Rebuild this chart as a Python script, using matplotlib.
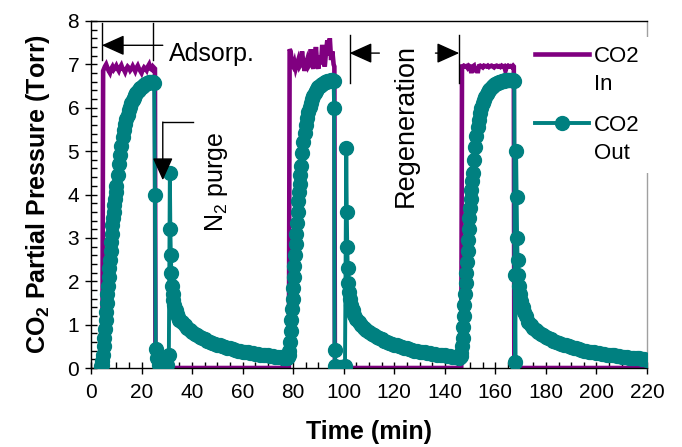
import matplotlib
matplotlib.use("Agg")
import matplotlib.pyplot as plt
from matplotlib.legend_handler import HandlerLine2D
from matplotlib.ticker import MultipleLocator

plt.rcParams['font.family'] = ['Liberation Sans', 'DejaVu Sans']
plt.rcParams['mathtext.fontset'] = 'custom'
plt.rcParams['mathtext.rm'] = 'Liberation Sans'
plt.rcParams['mathtext.bf'] = 'Liberation Sans:bold'

# ---------------- data ----------------
# CO2 In (feed), Torr vs min
t_in = [4.5, 4.8,
        5.0, 5.5, 6.0, 6.5, 7.0, 7.5, 8.0, 8.5, 9.0, 9.5, 10.0, 10.5, 11.0, 11.5,
        12.0, 12.5, 13.0, 13.5, 14.0, 14.5, 15.0, 15.5, 16.0, 16.5, 17.0, 17.5,
        18.0, 18.5, 19.0, 19.5, 20.0, 20.5, 21.0, 21.5, 22.0, 22.5, 23.0, 23.5,
        24.0, 24.5, 25.0, 25.3, 25.5,
        78.3, 78.6,
        79.0, 79.5, 80.0, 80.5, 81.0, 81.5, 82.0, 82.5, 83.0, 83.5, 84.0, 84.5,
        85.0, 85.5, 86.0, 86.5, 87.0, 87.5, 88.0, 88.5, 89.0, 89.5, 90.0, 90.5,
        91.0, 91.5, 92.0, 92.5, 93.0, 93.5, 94.0, 94.5, 95.0, 95.5, 96.0, 96.3, 96.5,
        146.5, 146.8,
        147.0, 147.5, 148.0, 148.5, 149.0, 149.5, 150.0, 150.5, 151.0, 151.5,
        152.0, 152.5, 153.0, 153.5, 154.0, 154.5, 155.0, 155.5, 156.0, 156.5,
        157.0, 157.5, 158.0, 158.5, 159.0, 159.5, 160.0, 160.5, 161.0, 161.5,
        162.0, 162.5, 163.0, 163.5, 164.0, 164.5, 165.0, 165.5, 166.0, 166.5,
        167.0, 167.3, 167.5,
        220.0]
p_in = [0.0, 6.85,
        6.88, 6.95, 7.00, 6.92, 6.85, 6.80, 6.90, 6.95, 6.88, 6.92, 6.97, 6.90, 6.85, 6.93,
        6.98, 6.90, 6.88, 6.82, 6.90, 6.95, 6.92, 6.86, 6.90, 6.96, 6.90, 6.84,
        6.92, 6.97, 6.90, 6.85, 6.80, 6.88, 6.93, 6.90, 6.86, 6.95, 7.00, 6.90,
        6.88, 6.95, 6.92, 6.90, 0.0,
        0.0, 7.35,
        7.30, 7.00, 6.95, 7.05, 6.90, 7.00, 7.10, 6.95, 7.00, 7.30, 7.05, 6.85,
        7.00, 7.10, 6.95, 7.00, 7.35, 7.00, 6.90, 7.10, 7.40, 7.00, 6.90, 7.20,
        7.00, 7.45, 7.10, 6.95, 7.30, 7.55, 7.20, 7.60, 7.10, 7.30, 7.00, 6.95, 0.0,
        0.0, 6.95,
        6.95, 6.97, 6.95, 6.96, 6.92, 6.97, 6.95, 6.80, 6.95, 6.97,
        6.82, 6.95, 6.80, 6.96, 6.97, 6.95, 6.93, 6.97, 6.96, 6.95,
        6.97, 6.94, 6.96, 6.97, 6.95, 6.93, 6.96, 6.97, 6.95, 6.96,
        6.94, 6.97, 6.95, 6.96, 6.85, 6.95, 6.97, 6.95, 6.96, 6.94,
        6.97, 6.95, 0.0,
        0.0]

# CO2 Out (effluent), Torr vs min, one list per cycle
t_out_1 = [4.0, 4.25, 4.5, 4.75, 5.0, 5.25, 5.5, 5.75, 6.0, 6.25, 6.5, 6.75, 7.0,
           7.25, 7.5, 7.75, 8.0, 8.25, 8.5, 8.75, 9.0, 9.25, 9.5, 9.75, 10.0,
           10.5, 11.0, 11.5, 12.0, 12.5, 13.0, 13.5, 14.0, 14.5, 15.0, 15.5, 16.0,
           16.5, 17.0, 17.5, 18.0, 18.5, 19.0, 19.5, 20.0, 20.5, 21.0, 21.5, 22.0,
           22.5, 23.0, 23.5, 24.0, 24.5, 25.0,
           25.3, 25.6, 26.2, 27.0, 28.0, 29.0, 30.0, 30.8,
           31.2, 31.4, 31.6, 31.8, 32.0, 32.3, 32.6, 33.0, 33.5, 34.0, 34.5, 35.0,
           36.0, 37.0, 38.0, 39.0, 40.0, 41.0, 42.0, 43.0, 44.0, 45.0,
           46.0, 47.0, 48.0, 49.0, 50.0, 51.0, 52.0, 53.0, 54.0, 55.0,
           56.0, 57.0, 58.0, 59.0, 60.0, 61.0, 62.0, 63.0, 64.0, 65.0,
           66.0, 67.0, 68.0, 69.0, 70.0, 71.0, 72.0, 73.0, 74.0, 75.0,
           76.0, 77.0, 77.5]
p_out_1 = [0.05, 0.08, 0.15, 0.30, 0.50, 0.70, 0.90, 1.10, 1.30, 1.50, 1.70, 1.90, 2.10,
           2.30, 2.50, 2.70, 2.90, 3.10, 3.30, 3.45, 3.60, 3.75, 3.90, 4.05, 4.20,
           4.45, 4.70, 4.92, 5.12, 5.32, 5.48, 5.62, 5.74, 5.84, 5.94, 6.02, 6.10,
           6.17, 6.23, 6.29, 6.34, 6.38, 6.42, 6.45, 6.48, 6.51, 6.53, 6.55, 6.57,
           6.58, 6.59, 6.60, 6.60, 6.60, 6.58,
           4.00, 0.44, 0.22, 0.07, 0.03, 0.03, 0.06, 0.30,
           4.50, 3.20, 2.60, 2.20, 1.90, 1.70, 1.57, 1.45, 1.33, 1.24, 1.17, 1.11,
           1.05, 0.98, 0.92, 0.87, 0.83, 0.79, 0.75, 0.72, 0.69, 0.66,
           0.63, 0.61, 0.58, 0.56, 0.54, 0.52, 0.50, 0.48, 0.46, 0.45,
           0.43, 0.42, 0.40, 0.39, 0.38, 0.37, 0.36, 0.35, 0.34, 0.33,
           0.32, 0.31, 0.30, 0.29, 0.29, 0.28, 0.27, 0.26, 0.26, 0.25,
           0.24, 0.23, 0.23]

t_out_2 = [78.0, 78.25, 78.5, 78.75, 79.0, 79.25, 79.5, 79.75, 80.0, 80.25, 80.5,
           80.75, 81.0, 81.25, 81.5, 81.75, 82.0, 82.25, 82.5, 82.75, 83.0,
           83.5, 84.0, 84.5, 85.0, 85.5, 86.0, 86.5, 87.0, 87.5, 88.0, 88.5, 89.0,
           89.5, 90.0, 90.5, 91.0, 91.5, 92.0, 92.5, 93.0, 93.5, 94.0, 94.5, 95.0,
           95.5, 96.0,
           96.2, 96.4, 96.7, 97.5, 98.5, 99.5, 100.5,
           101.0, 101.2, 101.4, 101.6, 101.8, 102.1, 102.5, 103.0, 103.5, 104.0, 105.0,
           106.0, 107.0, 108.0, 109.0, 110.0, 111.0, 112.0, 113.0, 114.0, 115.0,
           116.0, 117.0, 118.0, 119.0, 120.0, 121.0, 122.0, 123.0, 124.0, 125.0,
           126.0, 127.0, 128.0, 129.0, 130.0, 131.0, 132.0, 133.0, 134.0, 135.0,
           136.0, 137.0, 138.0, 139.0, 140.0, 141.0, 142.0, 143.0, 144.0, 145.0,
           145.5, 146.0]
p_out_2 = [0.25, 0.30, 0.40, 0.60, 0.85, 1.10, 1.35, 1.60, 1.85, 2.10, 2.35,
           2.60, 2.85, 3.10, 3.35, 3.60, 3.85, 4.05, 4.25, 4.45, 4.65,
           4.95, 5.20, 5.42, 5.60, 5.76, 5.90, 6.02, 6.12, 6.20, 6.27, 6.33, 6.38,
           6.43, 6.47, 6.50, 6.53, 6.55, 6.57, 6.59, 6.60, 6.61, 6.62, 6.62, 6.63,
           6.63, 6.62,
           6.00, 0.41, 0.05, 0.02, 0.02, 0.02, 0.04,
           5.07, 3.60, 2.80, 2.30, 1.96, 1.75, 1.60, 1.45, 1.33, 1.23, 1.12,
           1.05, 0.98, 0.92, 0.87, 0.83, 0.79, 0.75, 0.72, 0.69, 0.66,
           0.63, 0.61, 0.58, 0.56, 0.54, 0.52, 0.50, 0.48, 0.46, 0.45,
           0.43, 0.42, 0.40, 0.39, 0.38, 0.37, 0.36, 0.35, 0.34, 0.33,
           0.32, 0.31, 0.30, 0.29, 0.29, 0.28, 0.27, 0.26, 0.26, 0.25,
           0.24, 0.25]

t_out_3 = [146.25, 146.5, 146.75, 147.0, 147.25, 147.5, 147.75, 148.0, 148.25,
           148.5, 148.75, 149.0, 149.25, 149.5, 149.75, 150.0, 150.25, 150.5,
           150.75, 151.0,
           151.5, 152.0, 152.5, 153.0, 153.5, 154.0, 154.5, 155.0, 155.5, 156.0,
           156.5, 157.0, 157.5, 158.0, 158.5, 159.0, 159.5, 160.0, 160.5, 161.0,
           161.5, 162.0, 162.5, 163.0, 163.5, 164.0, 164.5, 165.0, 165.5, 166.0,
           166.5, 167.0, 167.5,
           167.6, 167.9,
           168.2, 168.4, 168.6, 168.8, 169.0, 169.3, 169.7, 170.2, 171.0, 171.5, 172.0,
           173.0, 174.0, 175.0, 176.0, 177.0, 178.0, 179.0, 180.0, 181.0, 182.0,
           183.0, 184.0, 185.0, 186.0, 187.0, 188.0, 189.0, 190.0, 191.0, 192.0,
           193.0, 194.0, 195.0, 196.0, 197.0, 198.0, 199.0, 200.0, 201.0, 202.0,
           203.0, 204.0, 205.0, 206.0, 207.0, 208.0, 209.0, 210.0, 211.0, 212.0,
           213.0, 214.0, 215.0, 216.0, 217.0, 218.0, 219.0, 220.0]
p_out_3 = [0.28, 0.35, 0.50, 0.70, 0.95, 1.20, 1.45, 1.70, 1.95,
           2.20, 2.45, 2.70, 2.95, 3.20, 3.45, 3.70, 3.90, 4.10,
           4.30, 4.50,
           4.80, 5.10, 5.35, 5.55, 5.72, 5.87, 6.00, 6.10, 6.18, 6.25,
           6.31, 6.36, 6.40, 6.44, 6.47, 6.50, 6.52, 6.54, 6.56, 6.58,
           6.59, 6.60, 6.61, 6.62, 6.62, 6.63, 6.63, 6.64, 6.64, 6.64,
           6.63, 6.63, 6.62,
           2.15, 0.14,
           5.00, 3.95, 3.00, 2.50, 2.15, 1.90, 1.70, 1.55, 1.40, 1.30, 1.20,
           1.05, 0.98, 0.92, 0.87, 0.83, 0.79, 0.75, 0.72, 0.69, 0.66,
           0.63, 0.61, 0.58, 0.56, 0.54, 0.52, 0.50, 0.48, 0.46, 0.45,
           0.43, 0.42, 0.40, 0.39, 0.38, 0.37, 0.36, 0.35, 0.34, 0.33,
           0.32, 0.31, 0.30, 0.29, 0.29, 0.28, 0.27, 0.26, 0.26, 0.25,
           0.24, 0.23, 0.23, 0.22, 0.22, 0.21, 0.20, 0.19]

t_out = t_out_1 + t_out_2 + t_out_3
p_out = p_out_1 + p_out_2 + p_out_3

x_ticks = [0, 20, 40, 60, 80, 100, 120, 140, 160, 180, 200, 220]
y_ticks = [0, 1, 2, 3, 4, 5, 6, 7, 8]

PURPLE = '#800080'
TEAL = '#008080'
LEG_SPACING = 1.45


class FirstLineHandler(HandlerLine2D):
    # put the legend line next to the first text line, as in Excel
    def create_artists(self, legend, orig_handle, xdescent, ydescent,
                       width, height, fontsize, trans):
        return super().create_artists(legend, orig_handle, xdescent,
                                      ydescent - LEG_SPACING * fontsize, width,
                                      height, fontsize, trans)


fig = plt.figure(figsize=(6.82, 4.47), dpi=100)
ax = fig.add_axes([91 / 682, 1 - 368 / 447, 556 / 682, 347 / 447])

l_in, = ax.plot(t_in, p_in, color=PURPLE, lw=3.3, zorder=2,
                solid_joinstyle='miter', label='CO2\nIn')
l_out, = ax.plot(t_out, p_out, color=TEAL, lw=2.8, marker='o', ms=10,
                 mec=TEAL, mfc=TEAL, zorder=3, label='CO2\nOut')

ax.set_xlim(0, 220)
ax.set_ylim(0, 8)
ax.set_xticks(x_ticks)
ax.set_yticks(y_ticks)
ax.xaxis.set_minor_locator(MultipleLocator(5))
ax.yaxis.set_minor_locator(MultipleLocator(0.2))

tick_font = {'family': ['Liberation Sans Narrow', 'Liberation Sans', 'DejaVu Sans'],
             'size': 15}
ax.set_xticklabels([str(v) for v in x_ticks], fontdict=tick_font)
ax.set_yticklabels([str(v) for v in y_ticks], fontdict=tick_font)
ax.tick_params(which='major', direction='inout', length=9, width=1, colors='k')
ax.tick_params(axis='y', which='major', pad=4)
ax.tick_params(axis='x', which='major', pad=6)
ax.tick_params(which='minor', direction='in', length=4.5, width=1, colors='k')

for s in ['left', 'bottom', 'top']:
    ax.spines[s].set_color('k')
    ax.spines[s].set_linewidth(1.0)
ax.spines['right'].set_color('#a0a0a0')
ax.spines['right'].set_linewidth(1.0)

ax.set_xlabel('Time (min)', fontsize=18, fontweight='bold', labelpad=13)
ax.set_ylabel(r'CO$_\mathbf{2}$ Partial Pressure (Torr)', fontsize=18,
              fontweight='bold', labelpad=11)

leg = ax.legend(handles=[l_in, l_out], loc='upper left',
                bbox_to_anchor=(0.783, 0.955), borderaxespad=0,
                fontsize=16, handlelength=2.4, handletextpad=0.25,
                labelspacing=0.9, borderpad=0.4, numpoints=1,
                frameon=True, fancybox=False, edgecolor='none',
                facecolor='white', framealpha=1,
                handler_map={l_in: FirstLineHandler(), l_out: FirstLineHandler()})
for txt in leg.get_texts():
    txt.set_linespacing(LEG_SPACING)

# ---------------- annotations ----------------
head = '-|>,head_length=1.0,head_width=0.45'
arrow_kw = dict(arrowstyle=head, color='k', lw=1.0, mutation_scale=14,
                shrinkA=0, shrinkB=0)
line_kw = dict(color='k', lw=1.0, clip_on=False, zorder=4)

# Adsorp.
ax.plot([4.3, 4.3], [7.1, 7.95], **line_kw)
ax.plot([24.5, 24.5], [7.1, 7.95], **line_kw)
ax.annotate('', xy=(4.3, 7.44), xytext=(28.4, 7.44), arrowprops=arrow_kw)
ax.text(31, 7.25, 'Adsorp.', fontsize=18, ha='left', va='center')

# N2 purge
ax.plot([40.3, 28.4], [5.67, 5.67], **line_kw)
ax.annotate('', xy=(28.4, 4.33), xytext=(28.4, 5.67), arrowprops=arrow_kw)
ax.text(49.8, 4.3, r'N$_2$ purge', fontsize=18, rotation=90,
        ha='center', va='center')

# Regeneration
ax.plot([102.3, 102.3], [6.57, 7.67], **line_kw)
ax.plot([145.7, 145.7], [6.57, 7.67], **line_kw)
ax.annotate('', xy=(102.3, 7.26), xytext=(114.1, 7.26), arrowprops=arrow_kw)
ax.annotate('', xy=(145.7, 7.26), xytext=(136.3, 7.26), arrowprops=arrow_kw)
ax.text(124.4, 5.6, 'Regeneration', fontsize=19.5, rotation=90,
        ha='center', va='center')

fig.savefig('out.png', dpi=100)
